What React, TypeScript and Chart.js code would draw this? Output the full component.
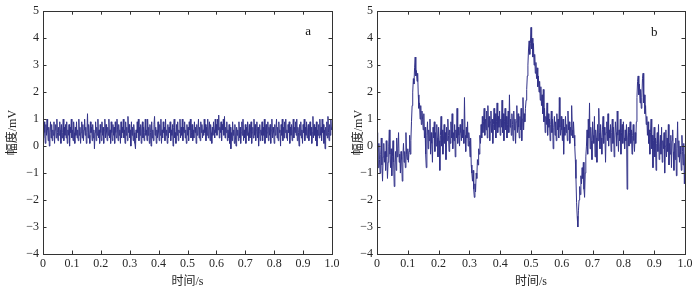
import React, { useEffect, useRef } from "react";
import { Chart, registerables } from "chart.js";

Chart.register(...registerables);

// Sampling period of both recordings (seconds between samples)
const SAMPLE_PERIOD_S = 0.002;

// Panel a: amplitude (mV), one value per sample (20 samples per row = 0.04 s)
const ampA: number[] = [
  0.7, 0.3, 0.9, 0.5, 0.1, 0.8, 0.4, 1.0, 0.6, 0.2, 0.7, 0.0, 0.5, 0.9, 0.3, 0.8, 0.2, 0.6, 0.4, 0.9,
  0.1, 0.6, 0.8, 0.3, 1.0, 0.5, 0.2, 0.7, 0.4, 0.9, 0.6, 0.1, 0.8, 0.3, 0.5, 1.0, 0.2, 0.7, 0.4, 0.8,
  0.3, 0.9, 0.1, 0.6, 0.4, 0.8, 0.0, 0.7, 0.5, 1.0, 0.3, 0.6, 0.2, 0.9, 0.5, 0.1, 0.7, 0.4, 0.9, 0.3,
  0.6, 0.2, 1.0, 0.4, 0.7, 0.1, 0.5, 0.9, 0.3, 0.8, 0.2, 0.6, 1.0, 0.4, 0.7, 0.1, 0.5, 1.2, 0.3, 0.8,
  0.4, 0.1, 0.9, 0.5, 0.7, 0.2, 0.8, 0.3, 0.6, -0.1, 0.5, 0.9, 0.2, 0.7, 0.4, 1.0, 0.3, 0.6, 0.1, 0.8,
  0.5, 0.2, 0.9, 0.4, 0.7, 0.1, 0.6, 1.0, 0.3, 0.8, 0.5, 0.2, 0.7, 0.4, 1.0, 0.3, 0.6, 0.1, 0.9, 0.5,
  0.2, 0.8, 0.4, 0.7, 0.1, 0.9, 0.5, 0.3, 1.0, 0.6, 0.2, 0.8, 0.4, 0.6, 0.1, 0.9, 0.3, 0.7, 0.5, 1.0,
  0.3, 0.6, 0.1, 0.9, 0.4, 0.7, 0.2, 1.1, 0.5, 0.8, 0.3, 0.6, 0.0, 0.9, 0.4, 0.7, 0.2, 0.8, 0.5, 0.1,
  -0.1, 0.6, 0.3, 0.9, 0.5, 1.0, 0.2, 0.7, 0.4, 0.8, 0.1, 0.6, 0.9, 0.3, 0.7, 0.2, 0.5, 1.0, 0.4, 0.6,
  0.2, 1.0, 0.4, 0.7, 0.1, 0.8, 0.5, 0.0, 0.9, 0.3, 0.6, 0.2, 0.8, 1.1, 0.4, 0.7, 0.1, 0.6, 0.3, 0.9,
  0.5, 0.2, 0.8, 0.4, 1.0, 0.1, 0.6, 0.3, 0.9, 0.5, 0.7, 0.2, 1.0, 0.4, 0.6, 0.1, 0.8, 0.3, 0.7, 0.5,
  0.9, 0.2, 0.6, 0.4, 0.8, 0.0, 0.7, 1.0, 0.3, 0.5, 0.1, 0.8, 0.4, 0.9, 0.2, 0.6, 0.5, 1.0, 0.3, 0.7,
  0.4, 1.0, 0.2, 0.7, 0.5, 0.9, 0.3, 0.6, 0.1, 0.8, 0.4, 0.7, 0.2, 0.9, 0.6, 1.0, 0.3, 0.5, 0.8, 0.2,
  0.6, 0.3, 0.9, 0.5, 0.7, 0.1, 0.8, 0.4, 0.6, 1.0, 0.3, 0.7, 0.2, 0.9, 0.5, 0.8, 0.3, 0.6, 0.4, 1.0,
  0.5, 0.8, 0.2, 0.7, 0.4, 1.0, 0.3, 0.6, 0.9, 0.2, 0.8, 0.5, 0.1, 0.7, 0.4, 0.9, 0.6, 0.3, 1.0, 0.5,
  0.8, 0.4, 1.0, 0.6, 1.15, 0.3, 0.7, 0.5, 0.9, 0.2, 0.8, 0.6, 1.0, 0.4, 1.1, 0.3, 0.7, 0.5, 0.9, 0.2,
  0.6, 0.3, 0.8, 0.1, 0.7, -0.1, 0.5, 0.2, 0.9, 0.4, 0.6, 0.1, 0.8, 0.3, 0.0, 0.7, 0.4, 0.6, 0.2, 0.9,
  0.3, 0.7, 0.1, 0.5, 0.9, 0.4, 1.0, 0.2, 0.6, 0.3, 0.8, 0.1, 0.7, 0.4, 0.9, 0.5, 0.2, 0.8, 0.3, 0.6,
  0.9, 0.1, 0.5, 0.7, 0.3, 1.0, 0.4, 0.8, 0.2, 0.6, 0.9, 0.3, 0.7, 0.0, 0.5, 0.8, 0.2, 0.6, 0.4, 0.9,
  0.2, 0.7, 0.4, 1.0, 0.1, 0.6, 0.8, 0.3, 0.5, 0.9, 0.2, 0.7, 0.4, 0.8, 0.1, 0.6, 1.0, 0.3, 0.7, 0.5,
  0.1, 0.8, 0.4, 0.6, 1.0, 0.3, 0.7, 0.2, 0.9, 0.5, 0.6, 0.0, 0.8, 0.4, 1.0, 0.2, 0.7, 0.3, 0.9, 0.5,
  1.0, 0.3, 0.6, 0.2, 0.8, 0.5, 0.9, 0.1, 0.7, 0.4, 0.8, 0.2, 0.6, 1.0, 0.3, 0.7, 0.5, 0.9, 0.4, 1.0,
  0.2, 0.7, 0.5, 0.0, 0.8, 0.4, 0.9, 0.3, 0.6, 0.1, 0.8, 0.5, 1.0, 0.2, 0.7, 0.4, 0.9, 0.3, 0.6, 0.8,
  0.2, 0.6, 0.9, 0.4, 0.7, 0.1, 0.5, 1.1, 0.3, 0.8, 0.4, 0.7, 0.2, 0.9, 0.0, 0.6, 0.4, 0.8, 0.3, 1.0,
  0.4, 0.7, 0.2, 1.0, 0.5, 0.8, 0.1, 0.6, -0.1, 0.7, 0.4, 0.9, 0.3, 1.1, 0.5, 0.2, 0.8, 0.4, 1.0, 0.6,
  0.7,
];

// Panel b: amplitude (mV), one value per sample (20 samples per row = 0.04 s)
const ampB: number[] = [
  0.5, -0.2, -0.8, 0.1, -0.5, -1.0, -0.3, 0.3, -0.7, -1.3, -0.4, 0.1, -0.6, -0.2, -0.9, 0.2, -0.4, -1.2, -0.6, 0.0,
  0.6, -0.3, -0.8, -0.1, -1.1, -0.4, 0.2, -0.6, -1.5, -0.7, -0.2, -0.9, 0.3, -0.4, -0.1, 0.5, -0.6, -0.3, -1.0, -0.2,
  -0.5, -1.3, -0.4, 0.1, -0.6, -0.2, -0.8, 0.5, -0.3, -0.5, -0.1, -0.6, -0.2, 0.4, -0.3, 0.2, 0.9, 1.5, 2.0, 2.5,
  2.3, 2.9, 3.3, 2.6, 2.8, 2.4, 2.7, 1.9, 1.4, 1.6, 1.0, 1.5, 0.8, 1.3, 1.0, 0.6, 1.2, 0.3, 0.7, -0.3,
  -0.8, 0.4, 0.9, -0.1, 0.6, 0.2, 1.0, -0.3, 0.5, 0.1, -0.6, 0.7, 0.3, 0.9, -0.2, 0.5, 0.0, 0.8, 0.3, -0.4,
  0.7, 0.2, -0.9, 0.4, 1.1, 0.0, 0.6, -0.3, 0.3, 0.8, 0.1, 0.5, -0.5, 0.7, 0.2, 1.0, 0.4, -0.2, 0.6, 0.1,
  0.9, 0.3, 1.2, -0.1, 0.5, 0.2, 0.8, -0.4, 0.6, 0.3, 1.4, 0.1, 0.7, 0.4, 0.0, 0.8, 0.5, 0.2, 1.0, 0.3,
  0.6, 0.1, 1.8, 0.4, -0.2, 0.7, 0.3, 0.9, 0.0, 0.5, 0.2, -0.4, 0.3, -0.7, -1.0, -1.3, -0.9, -1.6, -1.9, -1.4,
  -1.7, -1.0, -1.2, -0.5, -0.7, -0.1, -0.3, 0.4, 0.1, 0.8, 0.3, 1.1, 0.5, 0.9, 1.4, 0.4, 1.0, 0.6, 1.3, 0.3,
  1.5, 0.7, 1.1, 0.2, 0.9, 1.3, 0.5, 1.0, 0.1, 0.8, 1.4, 0.6, 1.2, 0.3, 0.9, 1.6, 0.5, 1.1, 0.7, 1.3,
  0.4, 1.0, 0.7, 1.7, 0.5, 1.2, 0.2, 0.9, 1.4, 0.6, 1.1, 0.3, 0.8, 1.3, 0.5, 1.9, 0.7, 1.0, 0.4, 1.2,
  0.8, 0.2, 1.3, 0.6, 1.0, 0.1, 0.9, 1.5, 0.5, 1.2, 0.7, 0.3, 1.1, 0.6, 1.4, 0.2, 1.0, 1.8, 0.6, 1.2,
  0.9, 1.4, 1.7, 2.1, 2.6, 3.0, 3.6, 3.9, 3.4, 3.8, 4.4, 3.6, 4.0, 3.3, 3.8, 3.0, 3.4, 2.7, 3.1, 2.5,
  2.9, 2.2, 2.6, 2.0, 2.4, 1.7, 2.2, 1.5, 1.9, 1.2, 2.1, 0.9, 1.4, 0.5, 1.1, 0.8, 1.6, 0.4, 1.2, 0.7,
  1.0, 0.2, 0.8, 1.3, 0.5, 1.0, -0.1, 0.7, 1.1, 0.4, 0.9, 0.2, 1.2, 0.6, 1.0, 0.3, 1.8, 0.7, 0.4, 1.1,
  0.6, 0.2, 1.0, -0.3, 0.7, 0.4, 1.1, 0.5, 0.8, 0.2, 1.3, 0.6, 0.9, 0.1, 0.7, 0.4, 1.5, 0.6, 0.3, 0.9,
  0.4, 0.0, -0.5, -1.2, -2.1, -2.6, -3.0, -2.4, -2.0, -1.5, -1.8, -1.1, -1.4, -0.8, -1.2, -0.6, -1.6, -1.9, -1.0, -0.4,
  0.0, 0.6, -0.3, 1.0, 0.3, 1.6, -0.1, 0.7, 0.2, -0.5, 0.9, 0.4, 0.1, 1.1, -0.4, 0.6, 0.3, -0.6, 0.8, 0.2,
  1.4, 0.5, -0.1, 0.8, 0.3, -0.3, 0.6, 1.1, 0.1, 0.7, 0.4, -0.6, 0.5, 0.9, 0.2, 1.2, 0.0, 0.6, 0.3, 0.8,
  -0.2, 0.5, 1.0, 0.1, 0.7, -0.4, 0.3, 0.9, 0.5, 0.0, 1.3, 0.4, -0.2, 0.6, 0.2, 1.0, -0.3, 0.5, 0.8, 0.1,
  0.9, 0.3, -0.1, 0.6, 0.2, 0.8, -1.6, 0.3, 0.7, 0.0, 0.5, 0.9, 0.1, 0.6, -0.3, 0.4, 0.8, 0.2, -0.2, 0.5,
  0.1, 0.9, 1.8, 2.4, 2.6, 1.9, 2.3, 1.6, 2.1, 1.4, 1.8, 2.5, 2.7, 1.6, 1.9, 1.2, 1.5, 0.8, 1.1, 0.4,
  0.9, 0.1, 0.6, -0.3, 0.5, 1.0, -0.1, 0.4, -0.8, 0.2, 0.7, -0.4, 0.3, -0.9, 0.1, 0.5, -0.2, 0.8, -0.5, 0.0,
  0.4, -0.3, 0.7, -0.6, 0.2, -0.1, 0.5, -1.0, 0.0, 0.6, -0.4, 0.3, -0.2, 0.8, -0.7, 0.1, -0.3, 0.4, -0.8, 0.2,
  0.6, -0.2, -0.9, 0.1, -0.5, 0.3, -1.1, -0.1, 0.9, -0.4, 0.2, -0.6, 0.0, -0.3, -0.9, 0.4, -0.2, -0.7, 0.1, -1.4,
  -0.3,
];

const panelLetters = ["a", "b"];
const X_TITLE = "时间/s";
const Y_TITLE = "幅度/mV";
const X_MIN = 0;
const X_MAX = 1;
const X_STEP = 0.1;
const Y_MIN = -4;
const Y_MAX = 5;
const Y_STEP = 1;

const LINE_COLOR = "rgb(52,52,138)";
const AXIS_COLOR = "#333333";
const TEXT_COLOR = "#262626";
const SERIF = "'Liberation Serif', 'Times New Roman', 'Noto Sans CJK SC', serif";

type PanelProps = {
  values: number[];
  letter: string;
  letterAt: { x: number; y: number };
  left: number;
  width: number;
  yAxisWidth: number;
  padTop: number;
  padRight: number;
};

const frameAndTicks = {
  id: "frameAndTicks",
  afterDraw(chart: any, _args: any, opts: any) {
    const { ctx, chartArea, scales } = chart;
    const { left, right, top, bottom } = chartArea;
    const tl = 3.5;
    ctx.save();
    ctx.strokeStyle = AXIS_COLOR;
    ctx.lineWidth = 1;
    ctx.beginPath();
    scales.x.ticks.forEach((t: any) => {
      const px = Math.round(scales.x.getPixelForValue(t.value)) + 0.5;
      ctx.moveTo(px, bottom);
      ctx.lineTo(px, bottom - tl);
      ctx.moveTo(px, top);
      ctx.lineTo(px, top + tl);
    });
    scales.y.ticks.forEach((t: any) => {
      const py = Math.round(scales.y.getPixelForValue(t.value)) + 0.5;
      ctx.moveTo(left, py);
      ctx.lineTo(left + tl, py);
      ctx.moveTo(right, py);
      ctx.lineTo(right - tl, py);
    });
    ctx.stroke();
    ctx.strokeRect(Math.round(left) + 0.5, Math.round(top) + 0.5, Math.round(right - left), Math.round(bottom - top));
    if (opts && opts.letter) {
      ctx.fillStyle = "#111";
      ctx.font = "13px " + SERIF;
      ctx.textAlign = "center";
      ctx.textBaseline = "middle";
      ctx.fillText(
        opts.letter,
        scales.x.getPixelForValue(opts.at.x),
        scales.y.getPixelForValue(opts.at.y)
      );
    }
    ctx.restore();
  },
};

function Panel(p: PanelProps) {
  const ref = useRef<HTMLCanvasElement | null>(null);
  useEffect(() => {
    if (!ref.current) return;
    const points = p.values.map((v, i) => ({ x: i * SAMPLE_PERIOD_S, y: v }));
    const chart = new Chart(ref.current, {
      type: "line",
      data: {
        datasets: [
          {
            data: points,
            borderColor: LINE_COLOR,
            borderWidth: 1,
            pointRadius: 0,
            tension: 0,
            fill: false,
          },
        ],
      },
      options: {
        responsive: false,
        animation: false,
        devicePixelRatio: 1,
        layout: { padding: { left: 0, top: p.padTop, right: p.padRight, bottom: 0 } },
        plugins: {
          legend: { display: false },
          tooltip: { enabled: false },
          frameAndTicks: { letter: p.letter, at: p.letterAt },
        } as any,
        scales: {
          x: {
            type: "linear",
            min: X_MIN,
            max: X_MAX,
            grid: { display: false, drawTicks: false },
            border: { display: false },
            ticks: {
              stepSize: X_STEP,
              color: TEXT_COLOR,
              padding: 3,
              maxRotation: 0,
              autoSkip: false,
              font: { family: SERIF, size: 12 },
              callback: (v: any) => (Number(v) === 0 ? "0" : Number(v).toFixed(1)),
            },
            title: {
              display: true,
              text: X_TITLE,
              color: TEXT_COLOR,
              font: { family: SERIF, size: 12 },
              padding: { top: 0, bottom: 3 },
            },
            afterFit: (s: any) => {
              s.height = 38;
            },
          },
          y: {
            type: "linear",
            min: Y_MIN,
            max: Y_MAX,
            grid: { display: false, drawTicks: false },
            border: { display: false },
            ticks: {
              stepSize: Y_STEP,
              color: TEXT_COLOR,
              padding: 4,
              autoSkip: false,
              font: { family: SERIF, size: 12 },
              callback: (v: any) => (Number(v) < 0 ? "\u2212" + Math.abs(Number(v)) : String(v)),
            },
            title: {
              display: true,
              text: Y_TITLE,
              color: TEXT_COLOR,
              font: { family: SERIF, size: 12 },
              padding: { top: 6, bottom: 0 },
            },
            afterFit: (s: any) => {
              s.width = p.yAxisWidth;
            },
          },
        },
      },
      plugins: [frameAndTicks],
    });
    return () => chart.destroy();
  }, []);
  return (
    <div style={{ position: "absolute", left: p.left, top: 0, width: p.width, height: 292 }}>
      <canvas ref={ref} width={p.width} height={292} style={{ width: p.width, height: 292, display: "block" }} />
    </div>
  );
}

export default function App() {
  return (
    <div style={{ position: "fixed", left: 0, top: 0, width: 700, height: 292, background: "#fff", overflow: "hidden" }}>
      <Panel
        values={ampA}
        letter={panelLetters[0]}
        letterAt={{ x: 0.917, y: 4.25 }}
        left={0}
        width={350}
        yAxisWidth={43}
        padTop={9}
        padRight={18}
      />
      <Panel
        values={ampB}
        letter={panelLetters[1]}
        letterAt={{ x: 0.9, y: 4.2 }}
        left={346}
        width={354}
        yAxisWidth={31}
        padTop={10}
        padRight={15}
      />
    </div>
  );
}
